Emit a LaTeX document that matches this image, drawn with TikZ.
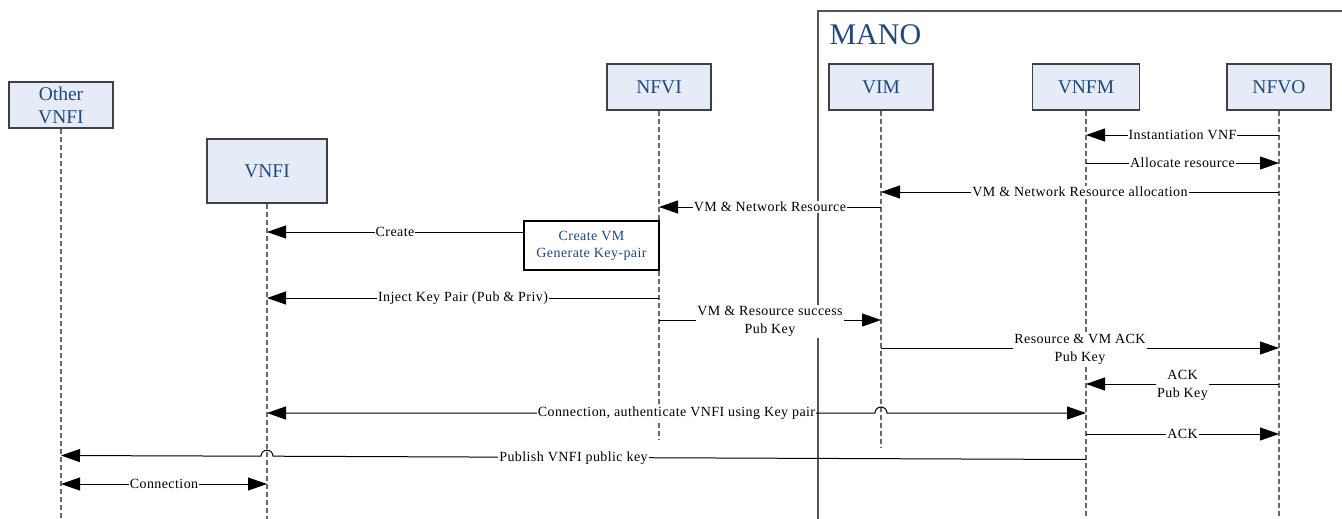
\documentclass[tikz,border=0pt]{standalone}
\usepackage{fontspec}
\setmainfont{Liberation Serif}
\newfontfamily\lblfont[LetterSpace=3]{Liberation Serif}
\usetikzlibrary{arrows.meta}
\definecolor{boxfill}{RGB}{230,236,247}
\definecolor{boxtext}{RGB}{31,73,125}
\definecolor{lifegray}{RGB}{105,105,105}
\definecolor{framegray}{RGB}{85,85,85}
\tikzset{
  actor/.style={draw=black!75, line width=1.4pt, fill=boxfill, text=boxtext,
    font=\fontsize{19.5}{23}\selectfont, align=center, inner sep=0pt,
    minimum width=104pt, minimum height=46pt},
  lifeline/.style={draw=lifegray, line width=1.2pt, dash pattern=on 5pt off 3pt},
  msg/.style={draw=black, line width=1pt},
  lbl/.style={fill=white, text=black, font=\lblfont\fontsize{14}{18}\selectfont,
    inner sep=1pt, align=center},
  procbox/.style={draw=black, line width=2pt, fill=white, text=boxtext,
    font=\lblfont\fontsize{14}{17}\selectfont, align=center, inner sep=0pt,
    minimum width=135pt, minimum height=49pt},
}
\begin{document}
\begin{tikzpicture}[x=1pt, y=-1pt, >={Triangle[length=19pt,width=13pt]}]
\useasboundingbox (0,0) rectangle (1342,519);

% MANO frame
\draw[framegray, line width=1.6pt] (818,519) -- (818,11) -- (1342,11);
\node[anchor=west, text=boxtext, font=\fontsize{30}{34}\selectfont] (mano) at (826,35) {MANO};

% participants
\node[actor] (other) at (61,105) {Other\\VNFI};
\node[actor, minimum width=120pt, minimum height=64pt] (vnfi) at (267,171) {VNFI};
\node[actor] (nfvi) at (659,87) {NFVI};
\node[actor] (vim)  at (881,87) {VIM};
\node[actor, minimum width=107pt] (vnfm) at (1086,87) {VNFM};
\node[actor] (nfvo) at (1279,87) {NFVO};

% lifelines
\draw[lifeline] (other.south) -- (other.south |- 0,519);
\draw[lifeline] (vnfi.south) -- (vnfi.south |- 0,519);
\draw[lifeline] (nfvi.south) -- (nfvi.south |- 0,439);
\draw[lifeline] (vim.south) -- (vim.south |- 0,447);
\draw[lifeline] (vnfm.south) -- (vnfm.south |- 0,519);
\draw[lifeline] (nfvo.south) -- (nfvo.south |- 0,519);

% local processing at the NFVI
\node[procbox] (cvm) at (591.5,245.5) {Create VM\\Generate Key-pair};

% messages
\draw[msg,->] (nfvo |- 0,135) -- node[lbl]{Instantiation VNF} (vnfm |- 0,135);
\draw[msg,->] (vnfm |- 0,163) -- node[lbl]{Allocate resource} (nfvo |- 0,163);
\draw[msg,->] (nfvo |- 0,192) -- node[lbl]{VM \& Network Resource allocation} (vim |- 0,192);
\draw[msg,->] (vim |- 0,207) -- node[lbl]{VM \& Network Resource} (nfvi |- 0,207);
\draw[msg,->] (cvm.west |- 0,232) -- node[lbl]{Create} (vnfi |- 0,232);
\draw[msg,->] (nfvi |- 0,298) -- node[lbl]{Inject Key Pair (Pub \& Priv)} (vnfi |- 0,298);
\draw[msg,->] (nfvi |- 0,320) -- node[lbl, yshift=-1.5pt]{VM \& Resource success\\Pub Key} (vim |- 0,320);
\draw[msg,->] (vim |- 0,348) -- node[lbl, yshift=-1.5pt]{Resource \& VM ACK\\Pub Key} (nfvo |- 0,348);
\draw[msg,->] (nfvo |- 0,384) -- node[lbl, yshift=-1.5pt]{ACK\\Pub Key} (vnfm |- 0,384);

% authenticated connection, hopping over the VIM lifeline
\draw[msg,<->] (vnfi |- 0,413) -- (875,413) arc[start angle=180, end angle=360, radius=6]
  -- (vnfm |- 0,413);
\node[lbl] (authlbl) at (676.5,413) {Connection, authenticate VNFI using Key pair};

\draw[msg,->] (vnfm |- 0,434) -- node[lbl]{ACK} (nfvo |- 0,434);

% public key publication, hopping over the VNFI lifeline
\draw[msg,->] (vnfm |- 0,459.5) -- (273,456.2) arc[start angle=0, end angle=-180, radius=6]
  -- (other |- 0,455.5);
\node[lbl] (publbl) at (573.5,457.7) {Publish VNFI public key};

\draw[msg,<->] (other |- 0,484) -- node[lbl]{Connection} (vnfi |- 0,484);
\end{tikzpicture}
\end{document}
